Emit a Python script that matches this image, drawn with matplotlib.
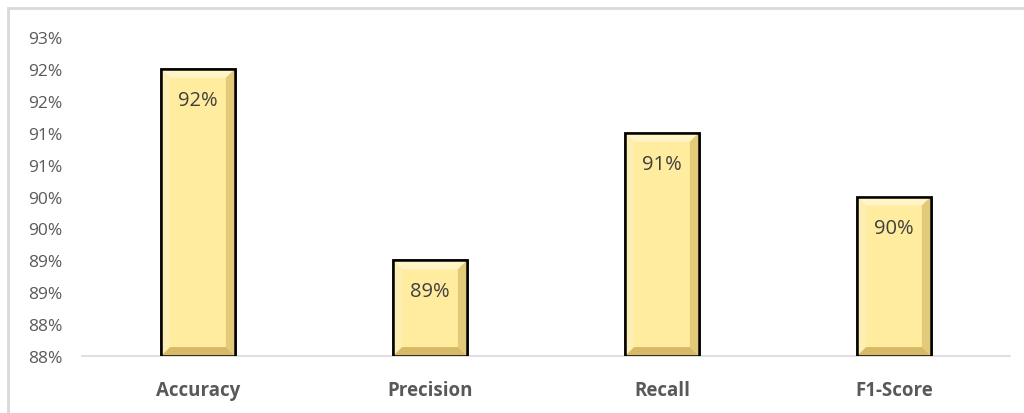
import matplotlib.pyplot as plt
from matplotlib.patches import Polygon, Rectangle

# data
metrics = ['Accuracy', 'Precision', 'Recall', 'F1-Score']
scores = [92.5, 89.5, 91.5, 90.5]
value_labels = ['92%', '89%', '91%', '90%']
y_ticks = [88.0, 88.5, 89.0, 89.5, 90.0, 90.5, 91.0, 91.5, 92.0, 92.5, 93.0]
y_tick_labels = ['88%', '88%', '89%', '89%', '90%', '90%', '91%', '91%', '92%', '92%', '93%']

plt.rcParams['font.family'] = ['Open Sans', 'DejaVu Sans']

fig = plt.figure(figsize=(10.24, 4.14), dpi=100)
ax = fig.add_axes([82/1024, 57/414, 928/1024, 319/414])

x = list(range(len(metrics)))
bars = ax.bar(x, [s - 88 for s in scores], bottom=88, width=0.32,
              color='#FFEC9E', edgecolor='black', linewidth=1.8, zorder=3)

# bevel shading on each bar
bx = 0.04
by = 0.14
for b in bars:
    x0, y0 = b.get_x(), b.get_y()
    x1, y1 = x0 + b.get_width(), y0 + b.get_height()
    faces = [
        ([(x0, y1), (x1, y1), (x1 - bx, y1 - by), (x0 + bx, y1 - by)], '#FFF5C8'),
        ([(x0, y0), (x0, y1), (x0 + bx, y1 - by), (x0 + bx, y0 + by)], '#FDEFB4'),
        ([(x1, y0), (x1, y1), (x1 - bx, y1 - by), (x1 - bx, y0 + by)], '#E3CA7A'),
        ([(x0, y0), (x1, y0), (x1 - bx, y0 + by), (x0 + bx, y0 + by)], '#D6BA68'),
    ]
    for pts, c in faces:
        ax.add_patch(Polygon(pts, closed=True, facecolor=c, edgecolor='none', zorder=3.5))
    ax.add_patch(Rectangle((x0, y0), x1 - x0, y1 - y0, facecolor='none',
                           edgecolor='black', linewidth=1.8, zorder=4))

for b, lab in zip(bars, value_labels):
    ax.annotate(lab, (b.get_x() + b.get_width() / 2, b.get_y() + b.get_height()),
                xytext=(0, -31), textcoords='offset pixels',
                ha='center', va='center', fontsize=14.5, color='#404040', zorder=5)

ax.set_xlim(-0.5, len(metrics) - 0.5)
ax.set_ylim(88, 93)
ax.set_yticks(y_ticks)
ax.set_yticklabels(y_tick_labels, fontsize=12.5, color='#595959')
ax.set_xticks(x)
ax.set_xticklabels(metrics, fontsize=13.5, fontweight='bold', color='#595959')
ax.tick_params(axis='both', length=0)
ax.tick_params(axis='y', pad=14)
ax.tick_params(axis='x', pad=17)

for s in ['top', 'right', 'left']:
    ax.spines[s].set_visible(False)
ax.spines['bottom'].set_color('#D9D9D9')
ax.spines['bottom'].set_linewidth(1.2)

# outer chart border (cut off at right and bottom)
fig.add_artist(Rectangle((8/1024, -0.2), 1.2, (414 - 9)/414 + 0.2,
                         transform=fig.transFigure, facecolor='none',
                         edgecolor='#D9D9D9', linewidth=2))

fig.savefig('out.png', dpi=100)
